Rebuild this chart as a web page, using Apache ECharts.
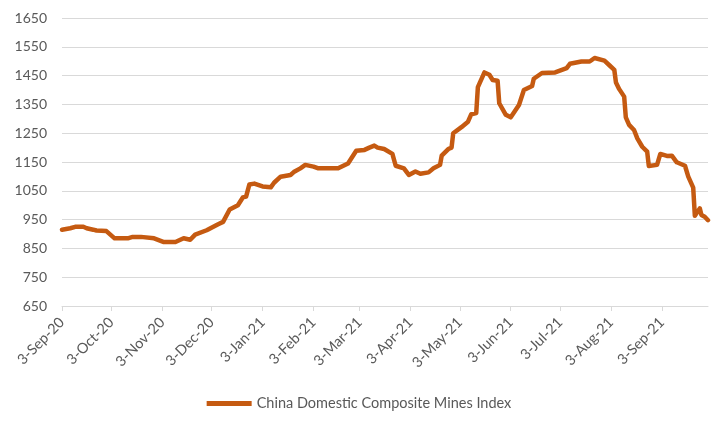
<!DOCTYPE html>
<html>
<head>
<meta charset="utf-8">
<script src="https://cdn.jsdelivr.net/npm/echarts@6/dist/echarts.min.js"></script>
<style>html,body{margin:0;padding:0;background:#fff}#c{width:718px;height:421px}</style>
</head>
<body>
<div id="c"></div>
<script>
var seriesName = 'China Domestic Composite Mines Index';
var dates = [
'2020-09-03','2020-09-08','2020-09-11','2020-09-16','2020-09-18','2020-09-22','2020-09-24','2020-09-30',
'2020-10-05','2020-10-13','2020-10-16','2020-10-21','2020-10-22','2020-10-29',
'2020-11-04','2020-11-11','2020-11-16','2020-11-20','2020-11-23','2020-11-30',
'2020-12-07','2020-12-10','2020-12-14','2020-12-19','2020-12-22','2020-12-24','2020-12-26','2020-12-29',
'2021-01-03','2021-01-08','2021-01-10','2021-01-14','2021-01-20','2021-01-22','2021-01-26','2021-01-29',
'2021-02-03','2021-02-06','2021-02-18','2021-02-24',
'2021-03-01','2021-03-06','2021-03-09','2021-03-12','2021-03-14','2021-03-18','2021-03-23','2021-03-25','2021-03-30',
'2021-04-02','2021-04-06','2021-04-09','2021-04-14','2021-04-17','2021-04-21','2021-04-22','2021-04-26','2021-04-28','2021-04-29',
'2021-05-04','2021-05-08','2021-05-10','2021-05-13','2021-05-14','2021-05-18','2021-05-21','2021-05-23','2021-05-26','2021-05-27','2021-05-31',
'2021-06-03','2021-06-08','2021-06-09','2021-06-11','2021-06-16','2021-06-17','2021-06-22','2021-06-30',
'2021-07-07','2021-07-09','2021-07-16','2021-07-21','2021-07-24','2021-07-30',
'2021-08-02','2021-08-05','2021-08-06','2021-08-08','2021-08-11','2021-08-12','2021-08-14','2021-08-17','2021-08-19','2021-08-22','2021-08-25','2021-08-26','2021-08-31',
'2021-09-02','2021-09-06','2021-09-09','2021-09-12','2021-09-17','2021-09-19','2021-09-22','2021-09-23','2021-09-26','2021-09-27','2021-09-29','2021-10-01'
];
var values = [
915,920,925,925,920,915,912,910,
885,885,890,890,885,885,
872,872,885,880,898,913,
934,942,985,1000,1027,1030,1072,1075,
1065,1062,1078,1099,1105,1115,1128,1140,
1134,1128,1128,1145,
1189,1192,1200,1207,1200,1195,1178,1137,1128,
1105,1117,1109,1114,1128,1140,1172,1195,1200,1250,
1271,1290,1316,1320,1410,1461,1453,1435,1432,1354,1314,
1305,1348,1352,1400,1414,1439,1459,1461,
1476,1491,1499,1499,1511,1502,
1486,1470,1426,1403,1377,1305,1279,1261,1232,1203,1186,1136,1140,
1178,1171,1172,1149,1137,1099,1061,963,989,966,960,948
];
var tickDates = ['2020-09-03','2020-10-03','2020-11-03','2020-12-03','2021-01-03','2021-02-03','2021-03-03','2021-04-03','2021-05-03','2021-06-03','2021-07-03','2021-08-03','2021-09-03'];
var axisStart = '2020-09-03', axisEnd = '2021-10-01';
var monthNames = ['Jan','Feb','Mar','Apr','May','Jun','Jul','Aug','Sep','Oct','Nov','Dec'];

function ts(s){var p=s.split('-');return Date.UTC(+p[0],+p[1]-1,+p[2]);}
function fmt(v){var d=new Date(v);return d.getUTCDate()+'-'+monthNames[d.getUTCMonth()]+'-'+String(d.getUTCFullYear()).slice(2);}

var data = dates.map(function(d,i){return [ts(d), values[i]];});
var tickTs = tickDates.map(ts);
var font = 'Lato, "Open Sans", sans-serif';

var chart = echarts.init(document.getElementById('c'), null, {renderer:'canvas'});
chart.setOption({
  animation:false,
  backgroundColor:'#fff',
  grid:{left:62,right:10,top:18,bottom:115,containLabel:false},
  legend:{
    bottom:5,left:'center',
    itemWidth:45,itemHeight:5,itemGap:10,
    icon:'rect',
    textStyle:{color:'#595959',fontSize:14.5,fontFamily:font},
    data:[seriesName]
  },
  xAxis:{
    type:'value',
    min:ts(axisStart),max:ts(axisEnd),
    axisLine:{show:true,lineStyle:{color:'#d9d9d9',width:1}},
    axisTick:{show:true,customValues:tickTs,length:5,lineStyle:{color:'#d9d9d9'}},
    axisLabel:{customValues:tickTs,rotate:45,formatter:function(v){return fmt(v);},color:'#595959',fontSize:14.5,fontFamily:font,margin:14,hideOverlap:false,showMinLabel:true,showMaxLabel:true},
    splitLine:{show:false}
  },
  yAxis:{
    type:'value',min:650,max:1650,interval:100,
    axisLine:{show:false},axisTick:{show:false},
    axisLabel:{color:'#595959',fontSize:14,fontFamily:font,margin:15,formatter:function(v){return String(v);}},
    splitLine:{lineStyle:{color:'#d9d9d9',width:1}}
  },
  series:[{
    name:seriesName,type:'line',data:data,
    showSymbol:false,symbol:'none',
    lineStyle:{color:'#C55A11',width:4.5,join:'round',cap:'round'},
    itemStyle:{color:'#C55A11'}
  }]
});
</script>
</body>
</html>
